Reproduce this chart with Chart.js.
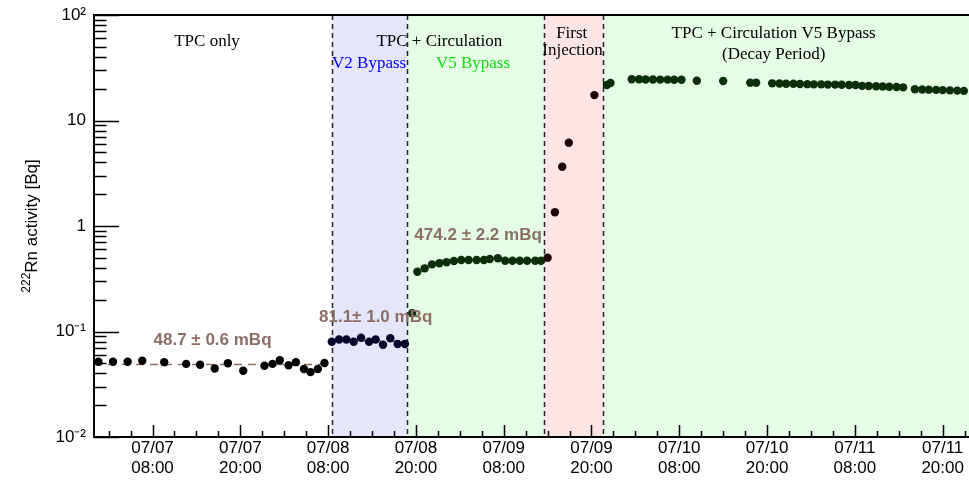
<!DOCTYPE html>
<html>
<head>
<meta charset="utf-8">
<script src="https://cdn.jsdelivr.net/npm/chart.js@4.4.0/dist/chart.umd.min.js"></script>
<style>
  html, body { margin: 0; padding: 0; background: #fff; }
</style>
</head>
<body>
<canvas id="myChart" width="969" height="480"></canvas>
<script>
// hours since 07/07 00:00
let tpcHours = [0.6, 2.6, 4.6, 6.6, 9.6, 12.6, 14.5, 16.5, 18.3, 20.4, 23.3, 24.4, 25.4, 26.6, 27.6, 28.7, 29.6, 30.6, 31.5];
let tpcValues = [0.0517, 0.0517, 0.0517, 0.0528, 0.0512, 0.0493, 0.0484, 0.0446, 0.0500, 0.0425, 0.0474, 0.0493, 0.0534, 0.0479, 0.0512, 0.0441, 0.0412, 0.0441, 0.0503];

let v2Hours = [32.5, 33.5, 34.5, 35.5, 36.5, 37.6, 38.5, 39.5, 40.5, 41.5, 42.5];
let v2Values = [0.080, 0.0841, 0.0841, 0.080, 0.0872, 0.080, 0.0841, 0.0750, 0.0863, 0.0762, 0.0762];

let v5Hours = [43.5, 44.2, 45.2, 46.2, 47.2, 48.2, 49.2, 50.2, 51.2, 52.3, 53.3, 54.1, 55.2, 56.2, 57.2, 58.2, 59.2, 60.3, 61.1];
let v5Values = [0.149, 0.369, 0.397, 0.433, 0.443, 0.453, 0.466, 0.476, 0.476, 0.476, 0.476, 0.487, 0.494, 0.469, 0.469, 0.469, 0.469, 0.469, 0.469];

let injHours = [62.0, 63.0, 64.0, 64.9, 68.4];
let injValues = [0.501, 1.35, 3.65, 6.16, 17.4];

let decayHours = [70.1, 70.6, 73.5, 74.5, 75.4, 76.4, 77.4, 78.4, 79.3, 80.3, 82.4, 86.0, 89.7, 90.5,
  92.7, 93.7, 94.6, 95.6, 96.5, 97.5, 98.4, 99.4, 100.3, 101.3, 102.2, 103.2, 104.1,
  105.0, 105.9, 106.9, 107.8, 108.7, 109.7, 110.6,
  112.2, 113.2, 114.1, 115.1, 116.0, 117.0, 118.0, 118.9];
let decayValues = [21.7, 22.7, 24.6, 24.6, 24.5, 24.5, 24.4, 24.4, 24.3, 24.3, 23.8, 23.7, 22.8, 22.8,
  22.5, 22.4, 22.3, 22.3, 22.2, 22.1, 22.0, 22.0, 21.9, 21.9, 21.8, 21.7, 21.7,
  21.3, 21.2, 21.1, 21.0, 20.9, 20.8, 20.6,
  19.8, 19.7, 19.6, 19.5, 19.4, 19.3, 19.2, 19.1];

// fitted levels [Bq] and their time spans
let fitLevels = [0.0487, 0.0811, 0.4742];
let fitStart = [0, 32.5, 47.3];
let fitEnd = [32.5, 42.8, 61.5];
let fitLabels = ['48.7 \u00b1 0.6 mBq', '81.1\u00b1 1.0 mBq', '474.2 \u00b1 2.2 mBq'];

// phase boundaries (hours)
let phaseEdges = [32.53, 42.78, 61.51, 69.57];

let majorTickHours = [8, 20, 32, 44, 56, 68, 80, 92, 104, 116];
let xTickLabels = [['07/07', '08:00'], ['07/07', '20:00'], ['07/08', '08:00'], ['07/08', '20:00'], ['07/09', '08:00'],
  ['07/09', '20:00'], ['07/10', '08:00'], ['07/10', '20:00'], ['07/11', '08:00'], ['07/11', '20:00']];
let yTickValues = [0.01, 0.1, 1, 10, 100];
let yTickLabels = ['10\u207b\u00b2', '10\u207b\u00b9', '1', '10', '10\u00b2'];

const fitColor = '#8b6f65';
const sans = '"Liberation Sans", Arial, sans-serif';

function pts(xs, ys) {
  return xs.map((x, i) => ({ x: x, y: ys[i] }));
}

// shaded phases + dashed separators
const phasePlugin = {
  id: 'phases',
  beforeDatasetsDraw(chart) {
    const ctx = chart.ctx, a = chart.chartArea, xs = chart.scales.x;
    const edges = [phaseEdges[0], phaseEdges[1], phaseEdges[2], phaseEdges[3], xs.max];
    const cols = ['#e5e5fb', '#e5fde5', '#fde5e5', '#e5fde5'];
    ctx.save();
    for (let i = 0; i < 4; i++) {
      const x0 = xs.getPixelForValue(edges[i]);
      const x1 = xs.getPixelForValue(edges[i + 1]);
      ctx.fillStyle = cols[i];
      ctx.fillRect(x0, a.top, x1 - x0, a.bottom - a.top);
    }
    ctx.strokeStyle = '#222';
    ctx.lineWidth = 1.5;
    ctx.setLineDash([5, 4]);
    phaseEdges.forEach(e => {
      const x = Math.round(xs.getPixelForValue(e)) + 0.5;
      ctx.beginPath();
      ctx.moveTo(x, a.top);
      ctx.lineTo(x, a.bottom);
      ctx.stroke();
    });
    ctx.restore();
  }
};

const notes = [
  { text: 'TPC only', x: 15.45, y: 55.5, color: '#000' },
  { text: 'TPC + Circulation', x: 47.2, y: 55.5, color: '#000' },
  { text: 'V2 Bypass', x: 37.6, y: 34.3, color: '#0000ff' },
  { text: 'V5 Bypass', x: 51.8, y: 34.3, color: '#10e010' },
  { text: 'First', x: 65.3, y: 67.1, color: '#000' },
  { text: 'Injection', x: 65.4, y: 45.9, color: '#000' },
  { text: 'TPC + Circulation V5 Bypass', x: 92.9, y: 67.1, color: '#000' },
  { text: '(Decay Period)', x: 92.9, y: 41.8, color: '#000' }
];
const fitNotePos = [{ x: 16.2, y: 0.083 }, { x: 38.5, y: 0.135 }, { x: 52.5, y: 0.822 }];

const textPlugin = {
  id: 'texts',
  afterDatasetsDraw(chart) {
    const ctx = chart.ctx, xs = chart.scales.x, ys = chart.scales.y;
    ctx.save();
    ctx.textAlign = 'center';
    ctx.textBaseline = 'middle';
    ctx.font = '17px "Liberation Serif", "Times New Roman", serif';
    notes.forEach(n => {
      ctx.fillStyle = n.color;
      ctx.fillText(n.text, xs.getPixelForValue(n.x), ys.getPixelForValue(n.y));
    });
    ctx.font = 'bold 17px ' + sans;
    ctx.fillStyle = fitColor;
    fitLabels.forEach((t, i) => {
      ctx.fillText(t, xs.getPixelForValue(fitNotePos[i].x), ys.getPixelForValue(fitNotePos[i].y));
    });
    ctx.restore();
  }
};

// ROOT style frame with inward ticks, plus the y title
const framePlugin = {
  id: 'frame',
  afterDraw(chart) {
    const ctx = chart.ctx, a = chart.chartArea, xs = chart.scales.x, ys = chart.scales.y;
    ctx.save();
    ctx.strokeStyle = '#000';
    ctx.lineWidth = 1.5;
    ctx.beginPath();
    for (let h = 2; h <= 119; h += 3) {
      const x = Math.round(xs.getPixelForValue(h)) + 0.5;
      const len = majorTickHours.includes(h) ? 12 : 6;
      ctx.moveTo(x, a.bottom);
      ctx.lineTo(x, a.bottom - len);
    }
    for (let d = -2; d <= 1; d++) {
      for (let k = 1; k <= 9; k++) {
        const y = Math.round(ys.getPixelForValue(k * Math.pow(10, d))) + 0.5;
        const len = k === 1 ? 25 : 12.5;
        ctx.moveTo(a.left, y);
        ctx.lineTo(a.left + len, y);
      }
    }
    ctx.moveTo(a.left, a.top + 0.5);
    ctx.lineTo(a.left + 25, a.top + 0.5);
    ctx.stroke();
    ctx.lineWidth = 2;
    ctx.beginPath();
    ctx.moveTo(a.right, a.top);
    ctx.lineTo(a.left, a.top);
    ctx.lineTo(a.left, a.bottom);
    ctx.lineTo(a.right, a.bottom);
    ctx.stroke();

    // y title: superscript mass number + label
    ctx.translate(37, (a.top + a.bottom) / 2);
    ctx.rotate(-Math.PI / 2);
    ctx.fillStyle = '#000';
    ctx.textBaseline = 'alphabetic';
    ctx.textAlign = 'left';
    const main = 'Rn activity [Bq]', sup = '222';
    ctx.font = '17px ' + sans;
    const wMain = ctx.measureText(main).width;
    ctx.font = '12px ' + sans;
    const wSup = ctx.measureText(sup).width;
    const x0 = -(wMain + wSup) / 2;
    ctx.fillText(sup, x0, -7);
    ctx.font = '17px ' + sans;
    ctx.fillText(main, x0 + wSup, 0);
    ctx.restore();
  }
};

function dots(data, color) {
  return { data: data, backgroundColor: color, borderWidth: 0, pointRadius: 4.2, pointHoverRadius: 4.2, order: 1 };
}
function fitLine(i) {
  return {
    data: [{ x: fitStart[i], y: fitLevels[i] }, { x: fitEnd[i], y: fitLevels[i] }],
    showLine: true, borderColor: fitColor, borderWidth: 1.5, borderDash: [8, 6],
    pointRadius: 0, order: 5
  };
}

let ctx = document.getElementById('myChart').getContext('2d');
let chart = new Chart(ctx, {
  type: 'scatter',
  data: {
    datasets: [
      dots(pts(tpcHours, tpcValues), '#000000'),
      dots(pts(v2Hours, v2Values), '#06062c'),
      dots(pts(v5Hours, v5Values), '#0b2e0b'),
      dots(pts(injHours, injValues), '#200404'),
      dots(pts(decayHours, decayValues), '#0b2e0b'),
      fitLine(0), fitLine(1), fitLine(2)
    ]
  },
  options: {
    responsive: false,
    animation: false,
    layout: { autoPadding: false, padding: { top: 15, right: 0, left: 0, bottom: 0 } },
    plugins: { legend: { display: false }, tooltip: { enabled: false } },
    scales: {
      x: {
        type: 'linear', min: 0, max: 119.6,
        grid: { display: false, drawTicks: false },
        border: { display: false },
        afterBuildTicks: s => { s.ticks = []; for (let h = 2; h <= 119; h += 3) s.ticks.push({ value: h }); },
        afterFit: s => { s.height = 43; s.paddingLeft = 0; s.paddingRight = 0; },
        ticks: {
          autoSkip: false, maxRotation: 0, minRotation: 0, padding: 2,
          color: '#000',
          font: { family: sans, size: 17, lineHeight: 1.15 },
          callback: v => { const i = majorTickHours.indexOf(v); return i >= 0 ? xTickLabels[i] : ''; }
        }
      },
      y: {
        type: 'logarithmic', min: 0.01, max: 100,
        grid: { display: false, drawTicks: false },
        border: { display: false },
        afterBuildTicks: s => { s.ticks = yTickValues.map(v => ({ value: v })); },
        afterFit: s => { s.width = 94; s.paddingTop = 0; s.paddingBottom = 0; },
        ticks: {
          padding: 8, color: '#000',
          font: { family: sans, size: 17 },
          callback: v => { const i = yTickValues.indexOf(v); return i >= 0 ? yTickLabels[i] : ''; }
        }
      }
    }
  },
  plugins: [phasePlugin, textPlugin, framePlugin]
});
</script>
</body>
</html>
